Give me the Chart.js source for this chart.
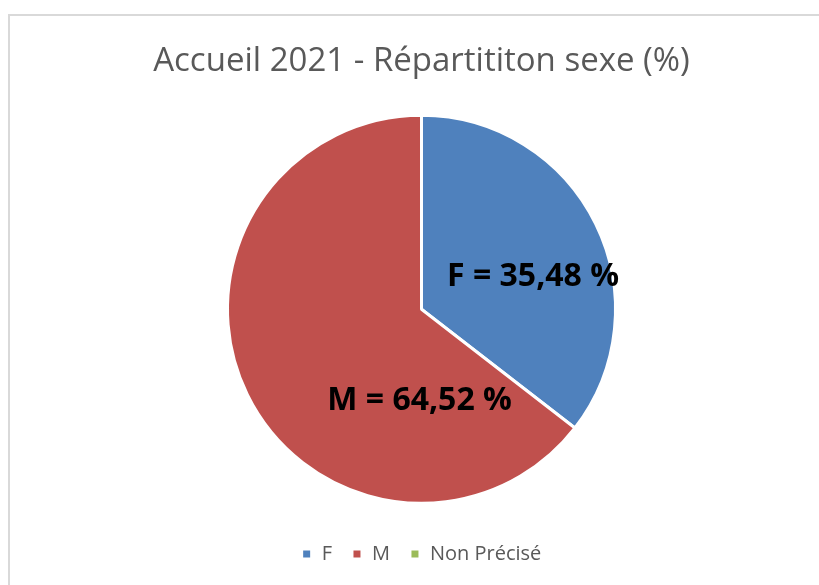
<!DOCTYPE html>
<html>
<head>
<meta charset="utf-8">
<script src="https://cdn.jsdelivr.net/npm/chart.js@4"></script>
<style>
  body { margin: 0; background: #fff; }
  #wrap { position: relative; width: 819px; height: 585px; overflow: hidden; }
  #frame { position: absolute; left: 8px; top: 14px; width: 900px; height: 700px; border: 2px solid #d9d9d9; box-sizing: border-box; }
  canvas { position: absolute; left: 0; top: 0; }
</style>
</head>
<body>
<div id="wrap">
  <div id="frame"></div>
  <canvas id="chart" width="819" height="585"></canvas>
</div>
<script>
const labels = ['F', 'M', 'Non Précisé']
const values = [35.48, 64.52, 0]
const colors = ['#4f81bd', '#c0504d', '#9bbb59']
// label offsets, as fraction of the radius (Excel places them a bit freely)
const labelOffsets = [[0.575, -0.168], [-0.01, 0.47], null]

const fmt = v => v.toFixed(2).replace('.', ',')

Chart.defaults.font.family = 'Open Sans'

const dataLabels = {
  id: 'dataLabels',
  afterDatasetsDraw(chart) {
    const ctx = chart.ctx
    const meta = chart.getDatasetMeta(0)
    ctx.save()
    ctx.font = 'bold 32px "Open Sans"'
    ctx.fillStyle = '#000'
    ctx.textAlign = 'center'
    ctx.textBaseline = 'middle'
    meta.data.forEach((arc, i) => {
      const off = labelOffsets[i]
      if (!off || !values[i]) return
      const r = arc.outerRadius
      ctx.fillText(labels[i] + ' = ' + fmt(values[i]) + ' %', arc.x + off[0] * r, arc.y + off[1] * r)
    })
    ctx.restore()
  }
}

new Chart(document.getElementById('chart'), {
  type: 'pie',
  data: {
    labels: labels,
    datasets: [{
      data: values,
      backgroundColor: colors,
      borderColor: '#fff',
      borderWidth: 3
    }]
  },
  options: {
    responsive: false,
    animation: false,
    radius: 194,
    layout: { padding: { top: 10, left: 24, right: 0, bottom: 11 } },
    plugins: {
      title: {
        display: true,
        text: 'Accueil 2021 - Répartititon sexe (%)',
        color: '#595959',
        font: { family: 'Open Sans', size: 33, weight: 'normal' },
        padding: { top: 32, bottom: 13 }
      },
      legend: {
        position: 'bottom',
        labels: {
          color: '#595959',
          font: { family: 'Open Sans', size: 20 },
          boxWidth: 10,
          boxHeight: 10,
          padding: 20
        }
      },
      tooltip: { enabled: false }
    }
  },
  plugins: [dataLabels]
})
</script>
</body>
</html>
